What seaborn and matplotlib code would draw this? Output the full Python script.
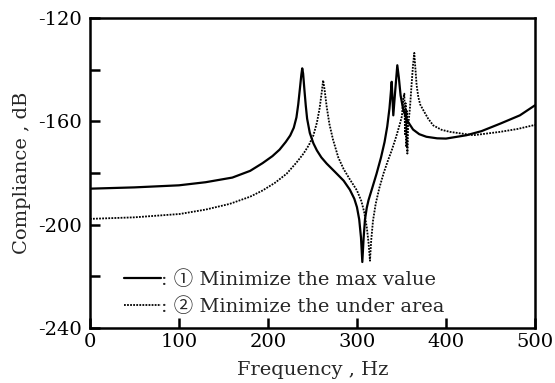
import numpy as np
import pandas as pd
import seaborn as sns
import matplotlib
matplotlib.use("Agg")
import matplotlib.pyplot as plt

# ---- data ----
freq_max = [0, 50, 100, 130, 160, 180, 194, 205, 213, 220, 225, 229, 232, 234,
            236, 237.5, 238.5, 239.5, 241, 242.5, 244, 247, 251, 255, 260, 266,
            275, 285, 292, 297, 300, 302.5, 304.5, 306, 307.5, 309, 311, 313,
            317, 322, 327, 331, 334, 336.5, 338, 339, 340.8, 343, 345.3, 347,
            349, 352, 356, 363, 370, 378, 390, 400, 423, 440, 461, 483, 500]
db_max = [-186.1, -185.6, -184.8, -183.6, -181.8, -179.2, -176.2, -173.5, -171.0,
          -168.0, -165.5, -162.5, -158.5, -153.5, -147.0, -142.0, -139.5, -141.5,
          -148.0, -154.0, -159.0, -164.5, -168.5, -171.3, -174.0, -176.4, -179.5,
          -183.0, -186.5, -190.0, -193.3, -198.0, -205.0, -214.5, -205.0, -198.0,
          -193.5, -190.5, -186.0, -180.3, -174.0, -168.0, -162.0, -155.0, -149.0,
          -144.7, -157.7, -148.0, -138.3, -143.0, -150.0, -155.5, -159.5, -163.2,
          -165.0, -166.0, -166.6, -166.7, -165.4, -163.8, -160.9, -157.7, -153.8]

freq_area = [0, 50, 101, 130, 157, 180, 194, 208, 221, 232, 240, 246, 251, 255,
             258, 260.5, 262, 263.5, 266, 269, 273, 279, 285, 292, 300, 305, 308,
             311, 313, 314.6, 316, 318, 321, 325, 330, 335, 339, 344, 348.3,
             350.5, 352, 353.2, 354, 354.6, 355.4, 356, 356.6, 357.5, 359.6,
             361.5, 363, 364.4, 365.5, 367, 368.9, 371, 374.5, 380, 385.7, 395,
             404.5, 430.7, 460.7, 480, 500]
db_area = [-197.8, -197.2, -195.9, -194.2, -192.0, -189.2, -186.8, -183.8, -180.3,
           -176.0, -172.5, -169.2, -165.5, -160.5, -155.0, -148.5, -144.1, -147.5,
           -154.4, -161.0, -167.0, -174.0, -178.5, -182.5, -186.8, -191.0, -195.0,
           -201.0, -207.0, -214.0, -206.0, -198.5, -192.0, -186.0, -180.0, -175.0,
           -171.3, -166.0, -160.9, -158.0, -151.0, -149.3, -165.0, -153.0, -170.0,
           -156.0, -172.5, -162.0, -154.4, -145.0, -138.0, -133.5, -139.0, -146.0,
           -150.6, -153.5, -155.7, -159.0, -161.6, -163.3, -164.1, -165.4, -164.1,
           -163.0, -161.4]

label_max = ": \u2460 Minimize the max value"
label_area = ": \u2461 Minimize the under area"
x_ticks = [0, 100, 200, 300, 400, 500]
y_ticks = [-240, -220, -200, -180, -160, -140, -120]
y_tick_labels = ["-240", "", "-200", "", "-160", "", "-120"]

# ---- plotting ----
sns.set_theme(style="white")
plt.rcParams['font.family'] = ['DejaVu Serif', 'Noto Sans CJK JP', 'DejaVu Sans']
plt.rcParams['font.size'] = 13

fig = plt.figure(figsize=(5.55, 3.83), dpi=100)
ax = fig.add_axes([0.162, 0.144, 0.802, 0.809])

df1 = pd.DataFrame({"f": freq_max, "c": db_max})
df2 = pd.DataFrame({"f": freq_area, "c": db_area})
sns.lineplot(data=df1, x="f", y="c", ax=ax, color="black", lw=1.6,
             label=label_max, sort=False, estimator=None)
sns.lineplot(data=df2, x="f", y="c", ax=ax, color="black", lw=1.3,
             linestyle=(0, (1, 0.7)), label=label_area, sort=False, estimator=None)

ax.set_xlim(0, 500)
ax.set_ylim(-240, -120)
ax.set_xticks(x_ticks)
ax.set_xticklabels([str(v) for v in x_ticks])
ax.set_yticks(y_ticks)
ax.set_yticklabels(y_tick_labels)
ax.tick_params(axis='both', direction='in', length=7, width=1.8, colors='black',
               labelsize=14)
ax.tick_params(axis='y', pad=6, left=True)
ax.tick_params(axis='x', pad=4, bottom=True)
for s in ax.spines.values():
    s.set_color('black')
    s.set_linewidth(1.8)

ax.set_xlabel("Frequency , Hz", fontsize=14, labelpad=7)
ax.set_ylabel("Compliance , dB", fontsize=14, labelpad=5)

leg = ax.legend(loc='lower left', bbox_to_anchor=(0.05, 0.0), frameon=False,
                handlelength=1.9, handletextpad=0.0, borderpad=0.1,
                labelspacing=0.45, fontsize=14)

fig.savefig("out.png", dpi=100)
